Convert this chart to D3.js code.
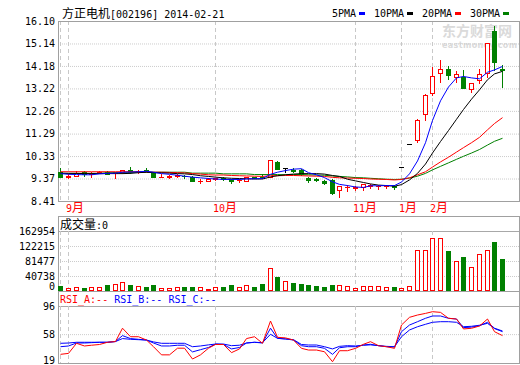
<!DOCTYPE html>
<html>
<head>
<meta charset="utf-8">
<script src="https://cdn.jsdelivr.net/npm/d3@7"></script>
<style>
	body{margin:0;background:#fff;}
	svg{display:block;}
	text{white-space:pre;}
</style>
</head>
<body>
<svg id="chart"></svg>
<script>
(function(){
	'use strict';

	var title = "方正电机[002196] 2014-02-21";
	var maNames = ["5PMA", "10PMA", "20PMA", "30PMA"];
	var rsiNames = ["RSI_A:-- ", "RSI_B:-- ", "RSI_C:--"];

	// one value per trading day, oldest first
	var opens = [9.66, 9.44, 9.49, 9.66, 9.55, 9.63, 9.66, 9.62, 9.64, 9.74,
		9.68, 9.74, 9.64, 9.43, 9.42, 9.48, 9.49, 9.45, 9.26, 9.27,
		9.36, 9.38, 9.33, 9.30, 9.27, 9.43, 9.45, 9.45, 10.06, 9.80,
		9.72, 9.73, 9.40, 9.35, 9.28, 9.31, 8.88, 9.00, 8.98, 9.00,
		9.05, 9.05, 9.04, 9.05, 9.86, 10.85, 11.00, 12.13, 13.02, 13.88,
		14.05, 13.71, 13.71, 13.19, 13.58, 13.88, 15.67, 14.05];
	var highs = [9.82, 9.55, 9.71, 9.70, 9.66, 9.68, 9.69, 9.67, 9.75, 9.88,
		9.75, 9.81, 9.67, 9.55, 9.50, 9.55, 9.52, 9.47, 9.33, 9.40,
		9.40, 9.42, 9.35, 9.35, 9.45, 9.45, 9.55, 10.16, 10.10, 9.80,
		9.80, 9.78, 9.44, 9.38, 9.32, 9.33, 9.05, 9.08, 9.05, 9.12,
		9.15, 9.10, 9.08, 9.09, 9.86, 10.85, 11.90, 13.00, 14.15, 14.43,
		14.18, 13.96, 14.01, 13.45, 14.05, 15.16, 15.89, 14.22];
	var lows = [9.43, 9.38, 9.47, 9.49, 9.45, 9.60, 9.55, 9.39, 9.62, 9.62,
		9.60, 9.68, 9.43, 9.42, 9.39, 9.45, 9.40, 9.25, 9.20, 9.26,
		9.30, 9.32, 9.20, 9.22, 9.27, 9.38, 9.40, 9.43, 9.76, 9.65,
		9.63, 9.52, 9.22, 9.25, 9.12, 8.72, 8.57, 8.85, 8.88, 8.90,
		8.98, 8.92, 8.95, 8.92, 9.86, 10.85, 10.95, 11.87, 12.94, 13.49,
		13.62, 13.49, 13.24, 13.07, 13.45, 13.71, 14.01, 13.28];
	var closes = [9.45, 9.46, 9.62, 9.56, 9.57, 9.65, 9.57, 9.64, 9.75, 9.63,
		9.70, 9.69, 9.44, 9.44, 9.48, 9.50, 9.47, 9.26, 9.28, 9.35,
		9.38, 9.36, 9.27, 9.31, 9.43, 9.41, 9.43, 10.16, 9.76, 9.80,
		9.68, 9.56, 9.30, 9.30, 9.20, 8.77, 9.05, 9.02, 9.00, 9.12,
		9.10, 9.07, 9.06, 9.00, 9.86, 10.85, 11.85, 12.94, 13.75, 14.05,
		13.79, 13.84, 13.24, 13.45, 13.84, 15.16, 14.35, 14.00];
	var volumes = [14000, 8000, 12000, 8000, 12000, 12000, 15000, 19000, 25000, 15000,
		14000, 11000, 15000, 8000, 8000, 12000, 12000, 12000, 12000, 6000,
		12000, 12000, 15000, 12000, 15000, 12000, 19000, 61700, 38000, 27000,
		21700, 19000, 16000, 13500, 11000, 16000, 15000, 12500, 7000, 12500,
		12500, 12500, 10000, 10000, 7000, 12500, 110500, 110500, 143000, 143000,
		108600, 80600, 92300, 65200, 100500, 110500, 133000, 87000];

	var ma5 = [9.58, 9.55, 9.54, 9.53, 9.53, 9.57, 9.59, 9.60, 9.64, 9.65,
		9.66, 9.68, 9.64, 9.58, 9.55, 9.51, 9.47, 9.43, 9.40, 9.37,
		9.35, 9.33, 9.33, 9.33, 9.35, 9.36, 9.37, 9.55, 9.64, 9.71,
		9.77, 9.79, 9.62, 9.53, 9.41, 9.23, 9.12, 9.07, 9.01, 8.99,
		9.06, 9.06, 9.07, 9.07, 9.22, 9.57, 10.12, 10.90, 11.85, 12.69,
		13.28, 13.67, 13.73, 13.67, 13.63, 13.91, 14.01, 14.16];
	var ma10 = [9.60, 9.59, 9.59, 9.58, 9.58, 9.58, 9.58, 9.58, 9.58, 9.59,
		9.62, 9.64, 9.62, 9.61, 9.60, 9.58, 9.57, 9.54, 9.49, 9.46,
		9.43, 9.40, 9.38, 9.37, 9.36, 9.35, 9.35, 9.44, 9.49, 9.53,
		9.56, 9.58, 9.58, 9.58, 9.56, 9.50, 9.46, 9.34, 9.27, 9.20,
		9.14, 9.09, 9.07, 9.04, 9.11, 9.31, 9.59, 9.99, 10.46, 10.95,
		11.42, 11.90, 12.32, 12.76, 13.16, 13.59, 13.84, 13.95];
	var ma20 = [9.66, 9.66, 9.66, 9.66, 9.66, 9.66, 9.66, 9.66, 9.66, 9.66,
		9.66, 9.65, 9.64, 9.64, 9.63, 9.62, 9.61, 9.58, 9.56, 9.53,
		9.52, 9.52, 9.50, 9.49, 9.48, 9.47, 9.46, 9.49, 9.49, 9.50,
		9.50, 9.49, 9.48, 9.47, 9.46, 9.42, 9.40, 9.39, 9.38, 9.37,
		9.35, 9.34, 9.33, 9.31, 9.33, 9.40, 9.53, 9.66, 9.86, 10.08,
		10.28, 10.50, 10.69, 10.90, 11.13, 11.45, 11.72, 11.97];
	var ma30 = [9.59, 9.59, 9.59, 9.59, 9.59, 9.59, 9.62, 9.62, 9.62, 9.62,
		9.64, 9.64, 9.64, 9.64, 9.64, 9.64, 9.64, 9.60, 9.60, 9.60,
		9.60, 9.57, 9.57, 9.57, 9.57, 9.54, 9.54, 9.54, 9.54, 9.53,
		9.54, 9.54, 9.53, 9.52, 9.51, 9.48, 9.46, 9.44, 9.41, 9.40,
		9.38, 9.36, 9.34, 9.33, 9.34, 9.39, 9.47, 9.59, 9.74, 9.89,
		10.04, 10.19, 10.32, 10.46, 10.61, 10.80, 10.96, 11.09];

	var rsiA = [30.7, 32, 45.6, 42, 43, 44, 47, 48, 66, 54.5,
		54.5, 50, 41, 30, 30, 39, 39, 24.4, 30, 39,
		44, 44, 33, 38, 52, 54.5, 45.6, 75.7, 53.7, 52.9,
		50, 38.8, 36.5, 36.5, 34.2, 20.7, 35.6, 35.6, 38.8, 44.3,
		47.8, 42.4, 41, 38.8, 70.3, 80.7, 83.8, 86, 88.3, 87.4,
		79.4, 78.4, 65, 65.9, 69, 78.4, 61.3, 56];
	var rsiB = [41, 42, 46, 46, 46.5, 47, 47, 48, 56, 52,
		51, 50, 46, 42, 42, 43, 43, 34, 37, 40,
		44.6, 44, 38, 40, 46, 47, 46, 66, 52.3, 51.5,
		50, 42.4, 41, 41, 38.8, 30.7, 39.6, 41, 41, 43.3,
		44.3, 42.4, 41, 40.6, 61.3, 70.3, 74.8, 79.4, 82.5, 82.5,
		79.4, 78.4, 66.8, 67.5, 69.4, 74, 66, 62.2];
	var rsiC = [45.6, 46, 47, 47, 47, 47, 47, 48, 52, 51,
		50.5, 50, 47.5, 45.6, 45.6, 45.6, 45.6, 41, 42, 43.5,
		44.6, 44.6, 42.4, 43, 46, 47, 46.5, 57.8, 52.3, 51.5,
		50.5, 44, 43.3, 43.3, 41, 38, 41.5, 42.4, 42, 43,
		43.5, 42.5, 41.5, 41, 54.5, 63.6, 68, 71.3, 74, 74.8,
		74.8, 74, 68, 68.6, 70, 72.6, 65.5, 61.3];

	// first trading day of each month (index into the arrays above)
	var monthIdx = [0, 1, 20, 38, 44, 48];
	var monthLabels = ["", "9月", "10月", "11月", "1月", "2月"];

	var priceTicks = [8.41, 9.37, 10.33, 11.29, 12.26, 13.22, 14.18, 15.14, 16.10];
	var volTicks = [0, 40738, 81477, 122215, 162954];
	var rsiTicks = [19, 58, 96];

	var RED = "#ff0000", GREEN = "#008000", BLUE = "#0000ff", BLACK = "#000000";
	var maColors = [BLUE, BLACK, RED, GREEN];
	var rsiColors = [RED, BLUE, BLUE];
	var MONO = "'DejaVu Sans Mono', monospace", CJK = "'Noto Sans CJK SC', sans-serif";

	var left = 58, right = 519;
	var main = {top: 21, bottom: 201},
		vol = {box: 216, top: 231, bottom: 291},
		rsi = {box: 291, top: 306, bottom: 363};

	var svg = d3.select("#chart").attr("width", 520).attr("height", 365);
	svg.append("rect").attr("width", 520).attr("height", 365).attr("fill", "#fff");

	var idx = d3.range(closes.length);

	var x = d3.scaleBand().domain(idx).range([57.1, 506.6]).paddingInner(0.3).paddingOuter(0.15);
	var yP = d3.scaleLinear().domain([8.41, 16.10]).range([main.bottom, main.top]);
	var yV = d3.scaleLinear().domain([0, 162954]).range([vol.bottom, vol.top]);
	var yR = d3.scaleLinear().domain([19, 96]).range([rsi.bottom, rsi.top]);

	function cx(i){ return Math.floor(x(i) + x.bandwidth() / 2) + 0.5; }
	function crisp(v){ return Math.round(v) + 0.5; }

	function mixedText(g, str, px, py, fill){
		var t = g.append("text").attr("x", px).attr("y", py).attr("fill", fill);
		str.match(/[\u3400-\u9fff]+|[^\u3400-\u9fff]+/g).forEach(function(run){
			var isCjk = /[\u3400-\u9fff]/.test(run);
			t.append("tspan").text(run)
				.style("font-family", isCjk ? CJK : MONO)
				.style("font-size", isCjk ? "12px" : "10px");
		});
		return t;
	}

	// watermark
	svg.append("text").attr("x", 442).attr("y", 36).attr("fill", "#dadada")
		.style("font-family", CJK).style("font-size", "14px").style("font-weight", "bold")
		.text("东方财富网");
	svg.append("text").attr("x", 442).attr("y", 48).attr("fill", "#dadada")
		.attr("textLength", 75)
		.style("font-family", "'DejaVu Sans', sans-serif").style("font-size", "8px").style("font-weight", "bold")
		.text("eastmoney.com");

	// horizontal grid
	function grid(scale, ticks, topVal){
		var g = svg.append("g").attr("transform", "translate(" + left + ",0)")
			.call(d3.axisRight(scale).tickValues(ticks).tickSize(right - left).tickFormat(""));
		g.select(".domain").remove();
		g.selectAll(".tick line")
			.attr("stroke", function(d){ return d === topVal ? "#a8a8a8" : "#cccccc"; })
			.attr("stroke-dasharray", function(d){ return d === topVal ? null : "1,1"; });
	}
	grid(yP, priceTicks.slice(1), 16.10);
	grid(yV, volTicks.slice(1), 162954);
	grid(yR, rsiTicks.slice(1), 96);

	// month separators
	[main, vol, rsi].forEach(function(p){
		svg.append("g").selectAll("line").data(monthIdx).join("line")
			.attr("x1", cx).attr("x2", cx)
			.attr("y1", p.top).attr("y2", p.bottom)
			.attr("stroke", "#c8c8c8").attr("stroke-dasharray", "4,3");
	});

	// panel borders
	[[main.top, main.bottom], [vol.box, vol.bottom], [rsi.box, rsi.bottom]].forEach(function(b){
		svg.append("rect").attr("x", left + 0.5).attr("y", b[0] + 0.5)
			.attr("width", right - left).attr("height", b[1] - b[0])
			.attr("fill", "none").attr("stroke", "#a0a0a0");
	});

	// y labels
	function yLabels(scale, ticks, fmt, shift){
		var g = svg.append("g").attr("transform", "translate(" + left + ",0)")
			.call(d3.axisLeft(scale).tickValues(ticks).tickSize(0).tickPadding(3).tickFormat(fmt));
		g.select(".domain").remove();
		g.attr("font-family", MONO).attr("font-size", 10);
		g.selectAll(".tick text").attr("fill", BLACK)
			.attr("y", function(d){ return d === ticks[0] ? -shift : 0; });
	}
	yLabels(yP, priceTicks, function(d){ return d.toFixed(2); }, 0);
	yLabels(yV, volTicks, d3.format("d"), 5);
	yLabels(yR, rsiTicks, d3.format("d"), 3);

	// month labels
	monthIdx.forEach(function(m, k){
		if(monthLabels[k]) mixedText(svg, monthLabels[k], cx(m) - 2.5, 212, RED);
	});

	// titles
	mixedText(svg, title, 62, 18, BLACK);
	mixedText(svg, "成交量:0", 60, 229, BLACK);
	var rt = svg.append("text").attr("x", 60).attr("y", 303)
		.style("font-family", MONO).style("font-size", "10px");
	rsiNames.forEach(function(n, k){ rt.append("tspan").attr("fill", rsiColors[k]).text(n); });

	// legend
	var lx = 332;
	maNames.forEach(function(n, k){
		svg.append("text").attr("x", lx).attr("y", 17).attr("fill", BLACK)
			.style("font-family", MONO).style("font-size", "10px").text(n);
		var tw = n.length * 6;
		svg.append("rect").attr("x", lx + tw + 3).attr("y", 12).attr("width", 6).attr("height", 3)
			.attr("fill", maColors[k]);
		lx += tw + 18;
	});

	function colorOf(i){
		if(closes[i] > opens[i]) return RED;
		if(closes[i] < opens[i]) return GREEN;
		return BLACK;
	}

	// candles
	var candle = svg.append("g").selectAll("g").data(idx).join("g");
	candle.append("line")
		.attr("x1", cx).attr("x2", cx)
		.attr("y1", function(i){ return Math.round(yP(highs[i])); })
		.attr("y2", function(i){ return Math.round(yP(lows[i])) + 1; })
		.attr("stroke", colorOf);
	candle.each(function(i){
		var g = d3.select(this),
			top = crisp(yP(Math.max(opens[i], closes[i]))),
			bot = crisp(yP(Math.min(opens[i], closes[i])));
		if(bot - top < 1){
			g.append("line").attr("x1", cx(i) - 2.5).attr("x2", cx(i) + 2.5)
				.attr("y1", top).attr("y2", top).attr("stroke", colorOf(i));
		} else {
			g.append("rect").attr("x", cx(i) - 2).attr("width", 4)
				.attr("y", top).attr("height", bot - top)
				.attr("fill", closes[i] < opens[i] ? GREEN : "#fff")
				.attr("stroke", colorOf(i));
		}
	});

	// moving averages
	var priceLine = d3.line().x(function(d, i){ return cx(i); }).y(function(d){ return yP(d); });
	[ma30, ma20, ma10, ma5].forEach(function(s, k){
		svg.append("path").attr("d", priceLine(s)).attr("fill", "none")
			.attr("stroke", maColors[3 - k]).attr("stroke-width", 1);
	});

	// volume
	svg.append("g").selectAll("rect").data(idx).join("rect")
		.attr("x", function(i){ return cx(i) - 2; }).attr("width", 4)
		.attr("y", function(i){ return crisp(yV(volumes[i])); })
		.attr("height", function(i){ return Math.max(0.5, vol.bottom - 0.5 - crisp(yV(volumes[i]))); })
		.attr("fill", function(i){ return closes[i] < opens[i] ? GREEN : "#fff"; })
		.attr("stroke", function(i){ return closes[i] < opens[i] ? GREEN : RED; });

	// rsi
	var rsiLine = d3.line().x(function(d, i){ return cx(i); }).y(function(d){ return yR(d); });
	[rsiC, rsiB, rsiA].forEach(function(s, k){
		svg.append("path").attr("d", rsiLine(s)).attr("fill", "none")
			.attr("stroke", rsiColors[2 - k]).attr("stroke-width", 1);
	});

})();
</script>
</body>
</html>
